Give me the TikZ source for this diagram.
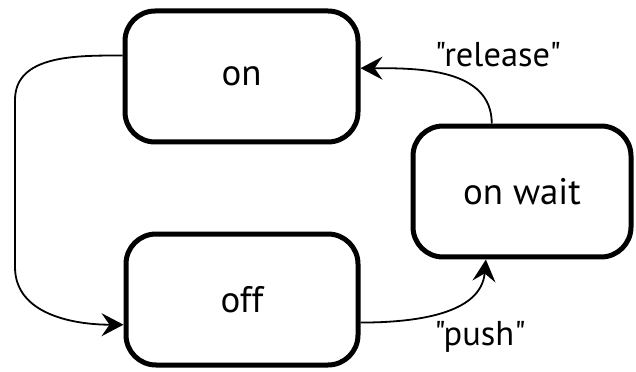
\documentclass[tikz,border=0pt]{standalone}
\usepackage{fontspec}
\newfontfamily\statefont{PT Sans}
\usetikzlibrary{arrows.meta}

\begin{document}
\begin{tikzpicture}[scale=0.1,
	state/.style={draw, line width=0.5mm, rounded corners=3mm, minimum height=13.1mm, font=\statefont\fontsize{10.5}{12}\selectfont},
	conn/.style={line width=0.18mm, -{Stealth[length=2.2mm,width=2.3mm,inset=0.8mm]}},
	lbl/.style={font=\statefont\fontsize{9.8}{12}\selectfont}]
				\useasboundingbox (0,0) rectangle (63.6,-37.1);
				\node [state, minimum width=23.3mm] (on) at (24.15,-7.65) {on};
				\node [state, minimum width=23.2mm] (off) at (24.2,-29.95) {off};
				\node [state, minimum width=21.8mm] (wait) at (52.2,-19.15) {on wait};
				\coordinate (ltop) at (1.5,-10);
				\coordinate (lbot) at (1.5,-26.7);
				\draw [conn] (on.170) to[out=180,in=90] (ltop) -- (lbot) to[out=-90,in=180] (off.192);
				\draw [conn] (off.-11.5) to[out=0,in=-95] (wait.242);
				\draw [conn] (wait.114) to[out=90,in=0] (on.4.5);
				\node [lbl] (release) at (49.8,-5.5) {"release"};
				\node [lbl] (push) at (48,-33.7) {"push"};
			\end{tikzpicture}
\end{document}
